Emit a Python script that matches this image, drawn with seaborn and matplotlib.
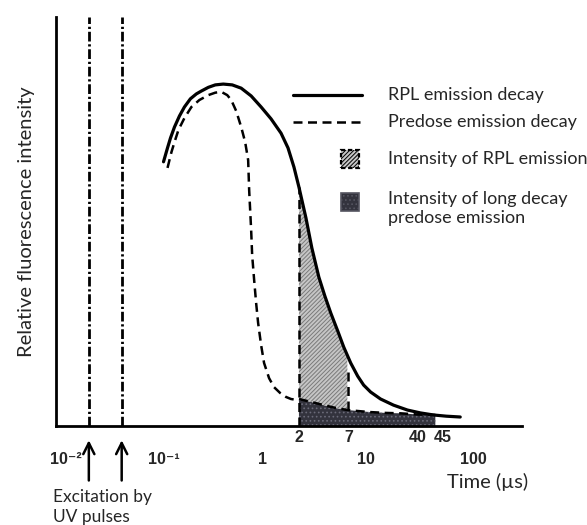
import numpy as np
import pandas as pd
import matplotlib
matplotlib.use("Agg")
import matplotlib.pyplot as plt
import matplotlib.transforms as mtransforms
import seaborn as sns
from matplotlib.patches import Rectangle

# ---------------- data ----------------
rpl_time = [0.1118, 0.1223, 0.1307, 0.1430, 0.1599, 0.1788, 0.2045, 0.2338, 0.2615, 0.3057,
            0.3575, 0.4276, 0.5229, 0.6395, 0.7998, 1.000, 1.250, 1.564, 1.829, 2.091,
            2.339, 2.735, 3.127, 3.657, 4.182, 4.783, 5.593, 6.395, 7.478, 8.743,
            10.00, 11.70, 14.62, 19.55, 26.75, 35.76, 47.83, 63.95, 87.43]
rpl_intensity = [0.646, 0.680, 0.704, 0.731, 0.758, 0.780, 0.800, 0.812, 0.819, 0.828,
                 0.834, 0.836, 0.834, 0.826, 0.807, 0.780, 0.751, 0.716, 0.680, 0.633,
                 0.584, 0.509, 0.435, 0.364, 0.318, 0.276, 0.232, 0.193, 0.154, 0.122,
                 0.100, 0.083, 0.066, 0.051, 0.039, 0.032, 0.027, 0.024, 0.022]

predose_time = [0.1223, 0.1337, 0.1430, 0.1564, 0.1788, 0.2091, 0.2500, 0.3057, 0.3575, 0.4090,
                0.4676, 0.5114, 0.5719, 0.6395, 0.6993, 0.7478, 0.7647, 0.7998, 0.8179, 0.8553,
                0.8941, 0.9352, 1.000, 1.069, 1.196, 1.337, 1.529, 1.749, 1.956, 2.187,
                2.339, 3.058, 4.090, 5.347, 6.993, 9.352, 11.70, 16.36, 22.87, 34.20, 50.00]
predose_intensity = [0.631, 0.670, 0.694, 0.724, 0.753, 0.780, 0.797, 0.809, 0.815, 0.817,
                     0.809, 0.797, 0.770, 0.731, 0.694, 0.650, 0.577, 0.479, 0.418, 0.357,
                     0.301, 0.252, 0.198, 0.154, 0.117, 0.095, 0.081, 0.071, 0.066, 0.064,
                     0.066, 0.059, 0.051, 0.044, 0.039, 0.036, 0.034, 0.032, 0.031, 0.028, 0.027]

pulse_time = [0.0209, 0.0437]            # excitation UV pulses
window_start, window_mid, window_end = 2.339, 6.993, 50.0
gate_top = [0.584, 0.137]               # tops of the dashed gate markers at 2 and 7

major_ticks = [0.01, 0.1, 1, 10, 100]
major_labels = ["10\u207b\u00b2", "10\u207b\u00b9", "1", "10", "100"]
mark_pos = [2.34, 7.1, 33.3, 58.5]
mark_labels = ["2", "7", "40", "45"]

legend_labels = ["RPL emission decay", "Predose emission decay",
                 "Intensity of RPL emission", "Intensity of long decay\npredose emission"]

# ---------------- style ----------------
sns.set_style("white")
plt.rcParams["font.family"] = ["Lato", "DejaVu Sans"]
plt.rcParams["hatch.linewidth"] = 0.7
TXT = 13
TICKFONT = ["Liberation Sans", "DejaVu Sans"]
DASH = (0, (3.6, 2.2))

fig = plt.figure(figsize=(5.87, 5.25), dpi=100)
ax = fig.add_axes([56 / 587, 1 - 426 / 525, 466 / 587, 409 / 525])
ax.set_xscale("log")
ax.set_xlim(0.01045, 350)
ax.set_ylim(0, 1)

df_rpl = pd.DataFrame({"t": rpl_time, "I": rpl_intensity})
df_pre = pd.DataFrame({"t": predose_time, "I": predose_intensity})

# ---------------- shaded areas ----------------
tf = np.logspace(np.log10(window_start), np.log10(window_end), 300)
pre_f = np.interp(np.log10(tf), np.log10(predose_time), predose_intensity)
rpl_f = np.interp(np.log10(tf), np.log10(rpl_time), rpl_intensity)
ax.fill_between(tf, 0, pre_f, facecolor="#33333d", edgecolor="#6a6a78",
                hatch="....", linewidth=0, zorder=1)
m = tf <= window_mid
ax.fill_between(tf[m], pre_f[m], rpl_f[m] - 0.008, facecolor="#c6c6c6", edgecolor="#7a7a7a",
                hatch="////////", linewidth=0, zorder=1)

# ---------------- curves ----------------
sns.lineplot(data=df_rpl, x="t", y="I", ax=ax, color="black", linewidth=2.3,
             estimator=None, sort=False, zorder=4)
sns.lineplot(data=df_pre, x="t", y="I", ax=ax, color="black", linewidth=1.8,
             linestyle=DASH, estimator=None, sort=False, zorder=4)

# gate markers at 2 and 7 us
ax.vlines([window_start], 0, gate_top[0], colors="black", linewidth=1.8,
          linestyles=[DASH], zorder=3)
ax.vlines([window_mid], np.interp(np.log10(window_mid), np.log10(predose_time), predose_intensity),
          gate_top[1], colors="black", linewidth=1.8, linestyles=[DASH], zorder=3)

# excitation pulses
ax.vlines(pulse_time, 0, 1, colors="black", linewidth=2.0,
          linestyles=[(0, (3.5, 1.0, 0.8, 1.0))], zorder=3)

# ---------------- axes ----------------
for s in ["top", "right"]:
    ax.spines[s].set_visible(False)
for s in ["left", "bottom"]:
    ax.spines[s].set_linewidth(2.0)
    ax.spines[s].set_color("black")
ax.set_yticks([])
ax.set_xticks(major_ticks)
ax.set_xticklabels(major_labels, fontsize=11.5, fontweight="bold", family=TICKFONT)
ax.xaxis.set_minor_locator(matplotlib.ticker.NullLocator())
ax.tick_params(axis="x", direction="in", length=6, width=1.8, pad=19, color="black")
ax.xaxis.get_major_ticks()[0].tick1line.set_visible(False)
shifts_px = [-6, 5, 1, 2, 7]
for lab, dx in zip(ax.get_xticklabels(), shifts_px):
    lab.set_transform(lab.get_transform() +
                      mtransforms.ScaledTranslation(dx / 100, 0, fig.dpi_scale_trans))
ax.get_xticklabels()[0].set_horizontalalignment("left")
ax.set_xlabel("")
ax.set_ylabel("Relative fluorescence intensity", fontsize=14.5)
ax.yaxis.set_label_coords(-0.045, 0.5)

xt = ax.get_xaxis_transform()
for p, lab in zip(mark_pos, mark_labels):
    ax.text(p, -0.027, lab, transform=xt, ha="center", va="center",
            fontsize=11.5, fontweight="bold", family=TICKFONT)

for p in pulse_time:
    ax.annotate("", xy=(p, -0.028), xycoords=xt, xytext=(p, -0.140), textcoords=xt,
                arrowprops=dict(arrowstyle="->", lw=1.8, color="black", mutation_scale=20),
                annotation_clip=False)

ax.text(-0.006, -0.199, "Excitation by\nUV pulses", transform=ax.transAxes,
        ha="left", va="center", fontsize=12.5, linespacing=1.3)
ax.text(0.839, -0.137, "Time (\u00b5s)", transform=ax.transAxes,
        ha="left", va="center", fontsize=14.5)

# ---------------- legend (drawn in axes coordinates) ----------------
tA = ax.transAxes
ax.plot([0.5086, 0.6567], [0.8093, 0.8093], color="black", lw=2.3, transform=tA)
ax.plot([0.5086, 0.6567], [0.7433, 0.7433], color="black", lw=1.8,
        linestyle=DASH, transform=tA)
ax.add_patch(Rectangle((0.6116, 0.6528 - 0.021), 0.039, 0.042, transform=tA,
                       facecolor="#c6c6c6", edgecolor="black", hatch="////////",
                       linewidth=1.6, linestyle=(0, (2, 1.2))))
ax.add_patch(Rectangle((0.6116, 0.5477 - 0.021), 0.039, 0.042, transform=tA,
                       facecolor="#33333d", edgecolor="#555560", hatch="....",
                       linewidth=1.2))
leg_y = [0.8093, 0.7433, 0.6528, 0.5318]
for y, lab in zip(leg_y, legend_labels):
    ax.text(0.7124, y, lab, transform=tA, ha="left", va="center", fontsize=TXT,
            linespacing=1.3)

fig.savefig("out.png", dpi=100)
